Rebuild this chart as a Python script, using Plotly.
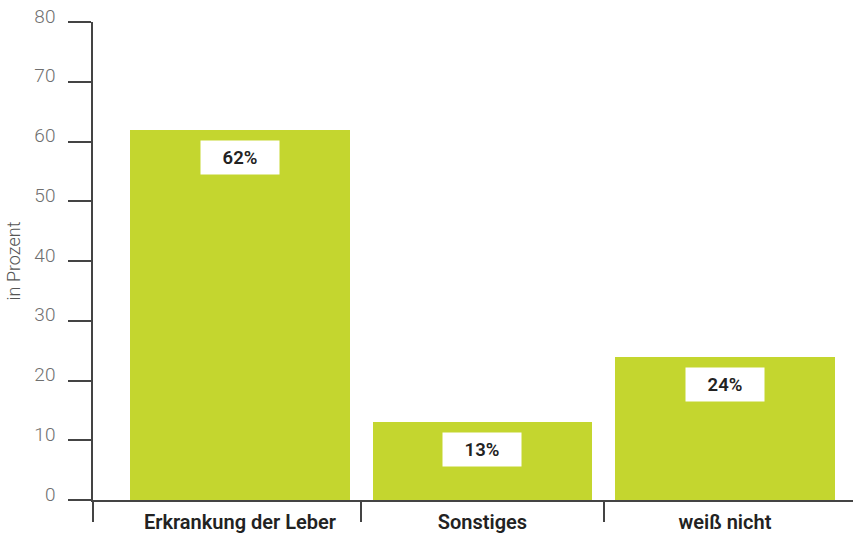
import plotly.graph_objects as go

categories = ["Erkrankung der Leber", "Sonstiges", "weiß nicht"]
values = [62, 13, 24]
value_labels = ["62%", "13%", "24%"]
y_ticks = [0, 10, 20, 30, 40, 50, 60, 70, 80]

bar_color = "#c4d62f"
x_pos = list(range(len(categories)))

fig = go.Figure()
fig.add_trace(
    go.Bar(
        x=x_pos, y=values, width=0.905,
        marker=dict(color=bar_color, line=dict(width=0)),
        showlegend=False, hoverinfo="skip",
    )
)

# white value boxes inside the bars
for x, v, lab in zip(x_pos, values, value_labels):
    fig.add_annotation(
        x=x, y=v, xref="x", yref="y",
        text=lab, showarrow=False,
        yanchor="top", yshift=-10,
        width=76, height=31, bgcolor="white",
        font=dict(family="Roboto", size=18.5, color="#222", weight=600),
    )

fig.update_layout(
    width=853, height=533,
    margin=dict(l=93, r=0, t=22, b=33),
    plot_bgcolor="white", paper_bgcolor="white",
    bargap=0,
)
fig.update_xaxes(
    range=[-0.606, 2.528], automargin=False,
    tickmode="array", tickvals=x_pos, ticktext=categories,
    ticks="", ticklabelstandoff=3,
    tickfont=dict(family="Roboto", size=20, color="#222", weight=600),
    showline=True, linecolor="#444", linewidth=1.5,
    showgrid=False, zeroline=False,
    minor=dict(tickvals=[-0.606, 0.5, 1.5], ticks="outside", ticklen=20,
               tickcolor="#444", tickwidth=1.5),
)
fig.update_yaxes(
    range=[0, 80], automargin=False,
    tickmode="array", tickvals=y_ticks,
    ticks="outside", ticklen=23, tickcolor="#444", tickwidth=1.5,
    ticklabelstandoff=9, ticklabelshift=-6,
    tickfont=dict(family="Roboto", size=19, color="#6f6f6f", weight=300),
    showline=True, linecolor="#444", linewidth=1.5,
    showgrid=False, zeroline=False,
    title=dict(text="in Prozent", standoff=9,
               font=dict(family="Roboto", size=18, color="#555", weight=300)),
)

fig.write_html("out.html", config={"displayModeBar": False},
               post_script="document.body.style.margin='0px';")
